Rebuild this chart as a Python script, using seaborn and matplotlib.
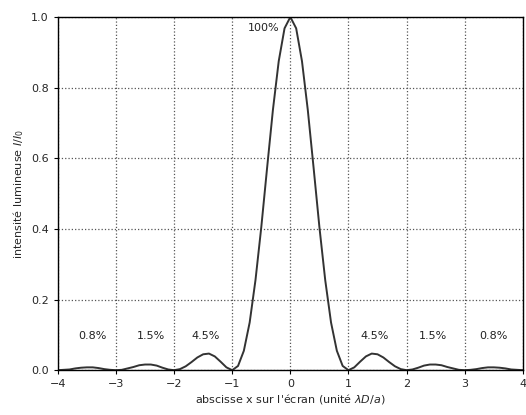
import numpy as np
import pandas as pd
import seaborn as sns
import matplotlib.pyplot as plt

# positions sur l'écran (unité lambda*D/a), pas de 0.1
x_pos = [round(-4 + 0.1 * i, 1) for i in range(81)]

# intensité relative, de x=0 à x=4
half = [1.000, 0.968, 0.875, 0.737, 0.573, 0.405, 0.255, 0.135, 0.055, 0.012,
        0.000, 0.008, 0.024, 0.039, 0.047, 0.045, 0.036, 0.023, 0.011, 0.003,
        0.000, 0.002, 0.007, 0.013, 0.016, 0.016, 0.014, 0.009, 0.005, 0.001,
        0.000, 0.001, 0.003, 0.006, 0.008, 0.008, 0.007, 0.005, 0.002, 0.001,
        0.000]
intensity = half[:0:-1] + half

peak_x = [-3.4, -2.4, -1.45, 1.45, 2.45, 3.5]
peak_labels = ['0.8%', '1.5%', '4.5%', '4.5%', '1.5%', '0.8%']

df = pd.DataFrame({'x': x_pos, 'I': intensity})

sns.set_style('white')
plt.rcParams['font.family'] = ['DejaVu Sans']

fig, ax = plt.subplots(figsize=(5.26, 4.15), dpi=100)
fig.subplots_adjust(left=0.11, right=0.994, top=0.959, bottom=0.108)

sns.lineplot(data=df, x='x', y='I', ax=ax, color='#333333', linewidth=1.4)

ax.set_xlim(-4, 4)
ax.set_ylim(0, 1.0)
ax.set_xticks(range(-4, 5))
ax.set_yticks([0, 0.2, 0.4, 0.6, 0.8, 1.0])
ax.grid(True, linestyle=':', color='#555555', linewidth=0.9)
for s in ax.spines.values():
    s.set_color('black')
    s.set_linewidth(1.0)
ax.tick_params(axis='both', labelsize=8, length=3, color='black', bottom=True, left=True)

for px, lab in zip(peak_x, peak_labels):
    ax.text(px, 0.082, lab, ha='center', va='bottom', fontsize=8, color='#222222')
ax.text(-0.46, 0.969, '100%', ha='center', va='center', fontsize=8, color='#222222')

ax.set_xlabel("abscisse x sur l'écran (unité $\\lambda D/a$)", fontsize=8, labelpad=2)
ax.set_ylabel('intensité lumineuse $I/I_0$', fontsize=8, labelpad=4)

fig.savefig('out.png', dpi=100)
